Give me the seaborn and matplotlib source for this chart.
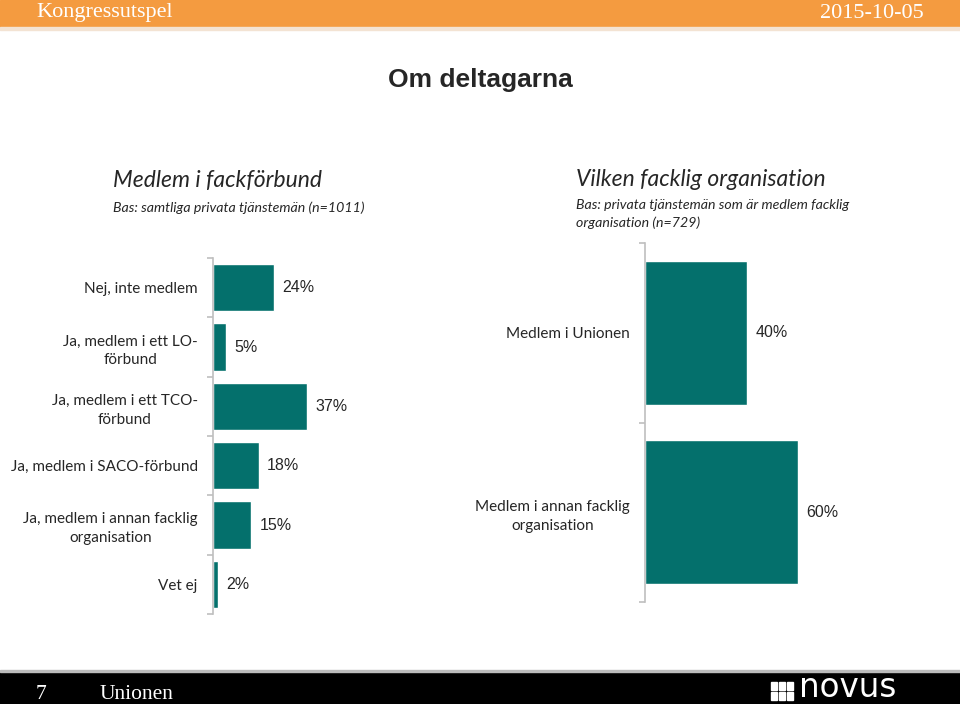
import matplotlib
matplotlib.use("Agg")
import matplotlib.pyplot as plt
import matplotlib.patches as mpatches
import seaborn as sns
import pandas as pd
import numpy as np

# data
left_cats = ["Nej, inte medlem", "Ja, medlem i ett LO-\nförbund", "Ja, medlem i ett TCO-\nförbund",
             "Ja, medlem i SACO-förbund", "Ja, medlem i annan facklig\norganisation", "Vet ej"]
left_vals = [24, 5, 37, 18, 15, 2]
right_cats = ["Medlem i Unionen", "Medlem i annan facklig\norganisation"]
right_vals = [40, 60]

teal = "#04706C"
orange = "#F49B40"

sns.set_style("white")
plt.rcParams["font.family"] = ["Lato", "DejaVu Sans"]

fig = plt.figure(figsize=(9.6, 7.04), dpi=100)

# header / footer bands
fig.patches.append(mpatches.Rectangle((0, 1 - 27 / 704), 1, 27 / 704, transform=fig.transFigure,
                                      color=orange, zorder=0))
fig.patches.append(mpatches.Rectangle((0, 1 - 30 / 704), 1, 3 / 704, transform=fig.transFigure,
                                      color="#F3E3D3", zorder=0))
fig.patches.append(mpatches.Rectangle((0, 0), 1, 32 / 704, transform=fig.transFigure,
                                      color="black", zorder=0))
fig.patches.append(mpatches.Rectangle((0, 32 / 704), 1, 2 / 704, transform=fig.transFigure,
                                      color="#BBBBBB", zorder=0))
fig.text(36 / 960, 1 - 13 / 704, "Kongressutspel", color="white", fontsize=16,
         family="Liberation Serif", va="center", ha="left")
fig.text(924 / 960, 1 - 13 / 704, "2015-10-05", color="white", fontsize=16,
         family="Liberation Serif", va="center", ha="right")
fig.text(36 / 960, 5 / 704, "7", color="white", fontsize=15.5, family="Liberation Serif",
         va="baseline")
fig.text(100 / 960, 5 / 704, "Unionen", color="white", fontsize=15.5, family="Liberation Serif",
         va="baseline")
# logo
for r in range(2):
    for c in range(3):
        fig.patches.append(mpatches.Rectangle(((771 + c * 8) / 960, (4 + r * 10) / 704), 6 / 960, 8 / 704,
                                              transform=fig.transFigure, color="white", zorder=1))
fig.text(799 / 960, 0, "novus", color="white", fontsize=23.5, family="DejaVu Sans",
         va="bottom", ha="left")

fig.text(0.5, 1 - 80 / 704, "Om deltagarna", fontsize=19, weight="bold",
         family="Liberation Sans", ha="center", va="center")

# section titles
fig.text(113 / 960, 1 - 181 / 704, "Medlem i fackförbund", fontsize=16.5, style="italic",
         ha="left", va="center")
fig.text(113 / 960, 1 - 208 / 704, "Bas: samtliga privata tjänstemän (n=1011)", fontsize=10.2,
         style="italic", ha="left", va="center")
fig.text(576 / 960, 1 - 180 / 704, "Vilken facklig organisation", fontsize=16.5, style="italic",
         ha="left", va="center")
fig.text(576 / 960, 1 - 214 / 704, "Bas: privata tjänstemän som är medlem facklig\norganisation (n=729)",
         fontsize=10.2, style="italic", ha="left", va="center", linespacing=1.45)


def draw(ax, cats, vals):
    df = pd.DataFrame({"cat": cats, "val": vals})
    sns.barplot(data=df, y="cat", x="val", orient="h", color=teal, saturation=1,
                width=0.8, ax=ax)
    n = len(cats)
    ax.set_xlim(0, 100)
    ax.set_ylim(n - 0.5, -0.5)
    ax.set_xlabel("")
    ax.set_ylabel("")
    ax.set_xticks([])
    for s in ["top", "right", "bottom"]:
        ax.spines[s].set_visible(False)
    ax.spines["left"].set_color("#BFBFBF")
    ax.spines["left"].set_linewidth(1.2)
    ax.set_yticks(range(n))
    ax.set_yticklabels(cats, fontsize=11, multialignment="center", linespacing=1.45)
    ax.tick_params(axis="y", which="major", left=False, length=0, pad=11)
    ax.set_yticks(np.arange(n + 1) - 0.5, minor=True)
    ax.tick_params(axis="y", which="minor", left=True, length=4, color="#BFBFBF", width=1.2)
    ax.bar_label(ax.containers[0], labels=[f"{v}%" for v in vals], padding=6,
                 fontsize=11.5, family="Liberation Sans")


ax1 = fig.add_axes([213 / 960, 1 - 614 / 704, 255 / 960, 356 / 704])
draw(ax1, left_cats, left_vals)
ax2 = fig.add_axes([645 / 960, 1 - 602 / 704, 255 / 960, 359 / 704])
draw(ax2, right_cats, right_vals)

fig.savefig("out.png", dpi=100)
